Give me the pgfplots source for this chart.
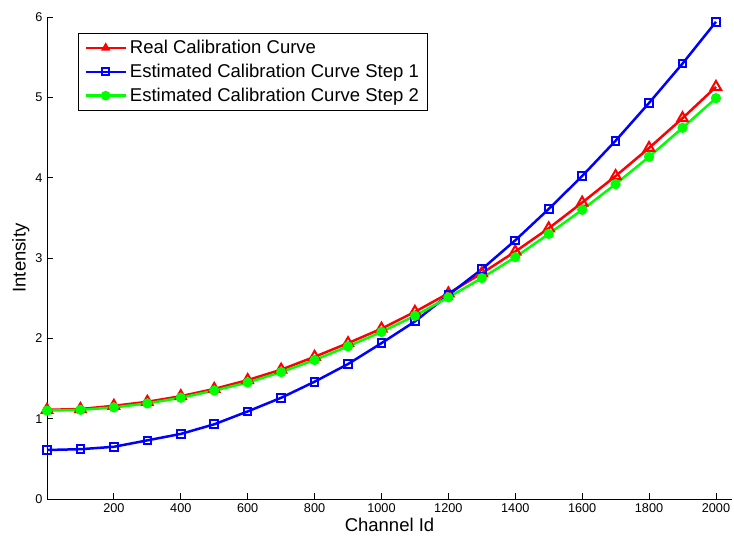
\documentclass[border=0pt]{standalone}
\usepackage{fontspec}
\setmainfont{Liberation Sans}
\usepackage{pgfplots}
\pgfplotsset{compat=1.18}

\definecolor{realred}{RGB}{255,0,0}
\definecolor{estblue}{RGB}{0,0,255}
\definecolor{estgreen}{RGB}{0,255,0}

\begin{document}
\begin{tikzpicture}
\begin{axis}[
  scale only axis,
  width=685bp, height=482bp,
  at={(0,0)}, anchor=south west,
  xmin=0, xmax=2048, ymin=0, ymax=6,
  axis lines*=left,
  axis line style={line width=0.9bp, black},
  tick align=inside,
  major tick length=6bp,
  tick style={line width=0.9bp, black},
  xtick={200,400,...,2000},
  ytick={0,1,...,6},
  /pgf/number format/assume math mode=true,
  /pgf/number format/set thousands separator={},
  ticklabel style={font=\fontsize{12.7bp}{15bp}\selectfont},
  xticklabel style={yshift=-1bp},
  yticklabel style={xshift=-1bp},
  xlabel={Channel Id},
  ylabel={Intensity},
  label style={font=\fontsize{18.5bp}{22bp}\selectfont},
  xlabel style={yshift=1bp},
  ylabel style={yshift=-1bp},
  legend cell align=left,
  legend style={
    at={(31/685,1-16/482)}, anchor=north west,
    draw=black, line width=0.9bp,
    font=\fontsize{18.5bp}{22bp}\selectfont,
    row sep=5bp, inner xsep=6bp, inner ysep=5bp,
    nodes={inner xsep=3bp},
  },
  legend image code/.code={%
    \draw[mark repeat=2,mark phase=2,mark size=3.5bp]
      plot coordinates {(0bp,0bp) (20bp,0bp) (40bp,0bp)};},
  every axis plot/.append style={line width=2.5bp},
]
% reference calibration curve
\addplot[color=realred, mark=triangle, mark size=6bp,
  mark options={solid, line width=2bp}]
  coordinates {
  (0,1.11) (100,1.12) (200,1.16) (300,1.21) (400,1.28) (500,1.37)
  (600,1.48) (700,1.61) (800,1.77) (900,1.94) (1000,2.12) (1100,2.33)
  (1200,2.56) (1300,2.81) (1400,3.08) (1500,3.37) (1600,3.69) (1700,4.02)
  (1800,4.37) (1900,4.74) (2000,5.13)};
\addlegendentry{Real Calibration Curve}
% first estimate
\addplot[color=estblue, mark=square, mark size=3.8bp,
  mark options={solid, line width=2bp}]
  coordinates {
  (0,0.61) (100,0.62) (200,0.65) (300,0.73) (400,0.81) (500,0.93)
  (600,1.09) (700,1.26) (800,1.46) (900,1.68) (1000,1.94) (1100,2.21)
  (1200,2.54) (1300,2.86) (1400,3.22) (1500,3.61) (1600,4.02) (1700,4.46)
  (1800,4.93) (1900,5.42) (2000,5.94)};
\addlegendentry{Estimated Calibration Curve Step 1}
% second estimate
\addplot[color=estgreen, mark=*, mark size=3.8bp,
  mark options={solid, fill=estgreen, draw=estgreen}]
  coordinates {
  (0,1.10) (100,1.11) (200,1.14) (300,1.19) (400,1.26) (500,1.35)
  (600,1.45) (700,1.58) (800,1.73) (900,1.90) (1000,2.08) (1100,2.28)
  (1200,2.51) (1300,2.75) (1400,3.01) (1500,3.30) (1600,3.60) (1700,3.92)
  (1800,4.26) (1900,4.62) (2000,4.99)};
\addlegendentry{Estimated Calibration Curve Step 2}
\end{axis}
\pgfresetboundingbox
\path[use as bounding box] (-47bp,-38bp) rectangle (687bp,499bp);
\end{tikzpicture}
\end{document}
